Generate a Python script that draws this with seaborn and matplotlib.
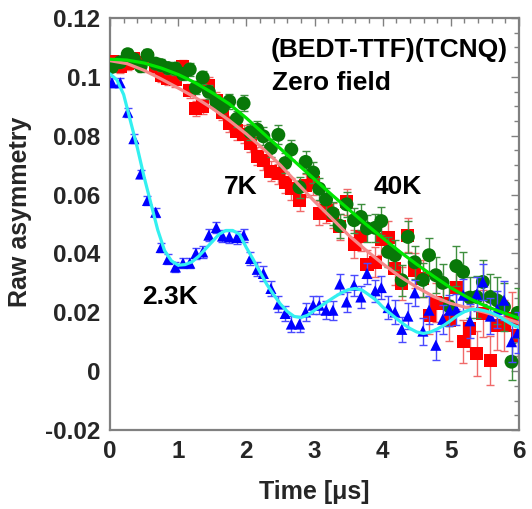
import matplotlib
matplotlib.use("Agg")
import matplotlib.pyplot as plt
import seaborn as sns

# ---- data -------------------------------------------------------------
time_us = [0.03, 0.15, 0.26, 0.35, 0.45, 0.55, 0.67, 0.75, 0.85, 0.96,
           1.07, 1.17, 1.26, 1.36, 1.45, 1.56, 1.65, 1.75, 1.86, 1.96,
           2.06, 2.16, 2.25, 2.36, 2.47, 2.57, 2.66, 2.78, 2.87, 2.98,
           3.07, 3.17, 3.27, 3.37, 3.47, 3.58, 3.68, 3.77, 3.89, 3.98,
           4.08, 4.18, 4.28, 4.37, 4.47, 4.59, 4.68, 4.78, 4.88, 4.98,
           5.08, 5.18, 5.28, 5.38, 5.47, 5.58, 5.68, 5.78, 5.89, 5.98]

asym_40K = [0.1034, 0.1050, 0.1077, 0.1060, 0.1036, 0.1074, 0.1045, 0.1040, 0.1030, 0.1028,
            0.1010, 0.1025, 0.0963, 0.0998, 0.0949, 0.0915, 0.0897, 0.0917, 0.0857, 0.0910,
            0.0812, 0.0821, 0.0798, 0.0758, 0.0803, 0.0707, 0.0753, 0.0625, 0.0711, 0.0675,
            0.0620, 0.0583, 0.0536, 0.0494, 0.0567, 0.0513, 0.0524, 0.0485, 0.0487, 0.0510,
            0.0405, 0.0394, 0.0309, 0.0456, 0.0370, 0.0310, 0.0394, 0.0326, 0.0300, 0.0220,
            0.0357, 0.0337, 0.0250, 0.0252, 0.0303, 0.0252, 0.0240, 0.0218, 0.0032, 0.0198]

asym_7K = [0.1051, 0.1034, 0.1045, 0.1062, 0.1050, 0.1062, 0.1034, 0.1006, 0.0995, 0.0990,
           0.1035, 0.0952, 0.0893, 0.0900, 0.0972, 0.0920, 0.0880, 0.0840, 0.0816, 0.0805,
           0.0774, 0.0731, 0.0717, 0.0680, 0.0670, 0.0640, 0.0620, 0.0581, 0.0632, 0.0640,
           0.0536, 0.0545, 0.0530, 0.0490, 0.0575, 0.0432, 0.0456, 0.0364, 0.0370, 0.0447,
           0.0455, 0.0349, 0.0298, 0.0462, 0.0343, 0.0315, 0.0190, 0.0233, 0.0230, 0.0173,
           0.0283, 0.0100, 0.0145, 0.0060, 0.0195, 0.0037, 0.0156, 0.0155, 0.0179, 0.0122]

asym_2K3 = [0.0980, 0.0980, 0.0880, 0.0790, 0.0670, 0.0580, 0.0540, 0.0420, 0.0380, 0.0354,
            0.0367, 0.0367, 0.0400, 0.0405, 0.0462, 0.0488, 0.0459, 0.0456, 0.0454, 0.0462,
            0.0383, 0.0346, 0.0332, 0.0281, 0.0228, 0.0196, 0.0160, 0.0160, 0.0201, 0.0224,
            0.0224, 0.0207, 0.0207, 0.0296, 0.0235, 0.0292, 0.0252, 0.0332, 0.0273, 0.0284,
            0.0216, 0.0201, 0.0142, 0.0187, 0.0266, 0.0136, 0.0207, 0.0088, 0.0176, 0.0207,
            0.0210, 0.0258, 0.0171, 0.0262, 0.0303, 0.0187, 0.0210, 0.0241, 0.0100, 0.0130]

err_40K = [0.0018, 0.0018, 0.0018, 0.0018, 0.0018, 0.0019, 0.0019, 0.0020, 0.0020, 0.0021,
           0.0021, 0.0022, 0.0022, 0.0023, 0.0024, 0.0024, 0.0025, 0.0026, 0.0026, 0.0027,
           0.0028, 0.0029, 0.0030, 0.0031, 0.0032, 0.0033, 0.0034, 0.0035, 0.0036, 0.0037,
           0.0038, 0.0039, 0.0040, 0.0041, 0.0042, 0.0043, 0.0045, 0.0046, 0.0047, 0.0049,
           0.0050, 0.0052, 0.0053, 0.0055, 0.0056, 0.0058, 0.0060, 0.0061, 0.0063, 0.0065,
           0.0067, 0.0069, 0.0071, 0.0073, 0.0075, 0.0077, 0.0079, 0.0081, 0.0062, 0.0086]

err_7K = [0.0020, 0.0020, 0.0020, 0.0020, 0.0020, 0.0021, 0.0021, 0.0022, 0.0022, 0.0023,
          0.0023, 0.0024, 0.0025, 0.0025, 0.0026, 0.0027, 0.0028, 0.0028, 0.0029, 0.0030,
          0.0031, 0.0032, 0.0033, 0.0034, 0.0035, 0.0036, 0.0037, 0.0038, 0.0039, 0.0040,
          0.0041, 0.0042, 0.0043, 0.0044, 0.0045, 0.0047, 0.0048, 0.0049, 0.0051, 0.0052,
          0.0054, 0.0055, 0.0057, 0.0058, 0.0060, 0.0062, 0.0064, 0.0066, 0.0068, 0.0070,
          0.0072, 0.0074, 0.0076, 0.0078, 0.0080, 0.0083, 0.0085, 0.0088, 0.0090, 0.0093]

err_2K3 = [0.0015, 0.0015, 0.0015, 0.0015, 0.0015, 0.0015, 0.0016, 0.0016, 0.0017, 0.0017,
           0.0018, 0.0018, 0.0019, 0.0019, 0.0020, 0.0020, 0.0021, 0.0021, 0.0022, 0.0022,
           0.0023, 0.0024, 0.0024, 0.0025, 0.0026, 0.0026, 0.0027, 0.0028, 0.0029, 0.0030,
           0.0030, 0.0031, 0.0032, 0.0033, 0.0034, 0.0035, 0.0036, 0.0037, 0.0038, 0.0039,
           0.0040, 0.0041, 0.0042, 0.0044, 0.0045, 0.0046, 0.0048, 0.0049, 0.0050, 0.0052,
           0.0053, 0.0055, 0.0057, 0.0058, 0.0060, 0.0062, 0.0064, 0.0066, 0.0068, 0.0070]

# fitted curves
fit_t_coarse = [0.0, 0.25, 0.5, 0.75, 1.0, 1.25, 1.5, 1.75, 2.0, 2.25, 2.5, 2.75, 3.0,
                3.25, 3.5, 3.75, 4.0, 4.25, 4.5, 4.75, 5.0, 5.25, 5.5, 5.75, 6.0]
fit_40K = [0.1060, 0.1057, 0.1047, 0.1030, 0.1008, 0.0980, 0.0946, 0.0908, 0.0860, 0.0808,
           0.0756, 0.0704, 0.0652, 0.0600, 0.0550, 0.0500, 0.0453, 0.0406, 0.0363, 0.0322,
           0.0283, 0.0250, 0.0222, 0.0200, 0.0180]
fit_7K = [0.1055, 0.1045, 0.1022, 0.0993, 0.0962, 0.0930, 0.0893, 0.0852, 0.0806, 0.0755,
          0.0700, 0.0638, 0.0577, 0.0520, 0.0462, 0.0412, 0.0365, 0.0322, 0.0285, 0.0253,
          0.0230, 0.0215, 0.0200, 0.0182, 0.0164]

fit_t_fine = [0.0, 0.1, 0.2, 0.3, 0.4, 0.5, 0.6, 0.7, 0.8, 0.9,
              1.0, 1.1, 1.2, 1.3, 1.4, 1.5, 1.6, 1.7, 1.8, 1.9,
              2.0, 2.1, 2.2, 2.3, 2.4, 2.5, 2.6, 2.7, 2.8, 2.9,
              3.0, 3.1, 3.2, 3.3, 3.4, 3.5, 3.6, 3.7, 3.8, 3.9,
              4.0, 4.1, 4.2, 4.3, 4.4, 4.5, 4.6, 4.7, 4.8, 4.9,
              5.0, 5.1, 5.2, 5.3, 5.4, 5.5, 5.6, 5.7, 5.8, 5.9, 6.0]
fit_2K3 = [0.1010, 0.0990, 0.0940, 0.0850, 0.0760, 0.0660, 0.0570, 0.0480, 0.0410, 0.0375,
           0.0360, 0.0362, 0.0371, 0.0390, 0.0415, 0.0440, 0.0465, 0.0478, 0.0478, 0.0465,
           0.0420, 0.0380, 0.0337, 0.0295, 0.0260, 0.0228, 0.0203, 0.0186, 0.0182, 0.0190,
           0.0207, 0.0222, 0.0238, 0.0253, 0.0267, 0.0277, 0.0281, 0.0275, 0.0259, 0.0242,
           0.0218, 0.0198, 0.0179, 0.0161, 0.0145, 0.0133, 0.0128, 0.0133, 0.0143, 0.0156,
           0.0172, 0.0189, 0.0202, 0.0210, 0.0210, 0.0205, 0.0198, 0.0187, 0.0172, 0.0158, 0.0148]

x_ticks = [0, 1, 2, 3, 4, 5, 6]
x_tick_labels = ["0", "1", "2", "3", "4", "5", "6"]
y_ticks = [-0.02, 0.0, 0.02, 0.04, 0.06, 0.08, 0.10, 0.12]
y_tick_labels = ["-0.02", "0", "0.02", "0.04", "0.06", "0.08", "0.1", "0.12"]

# ---- style ------------------------------------------------------------
sns.set_theme(style="white")
plt.rcParams["font.family"] = ["Liberation Sans", "DejaVu Sans"]
plt.rcParams["font.weight"] = "bold"
plt.rcParams["axes.labelweight"] = "bold"

fig = plt.figure(figsize=(5.32, 5.09), dpi=100)
ax = fig.add_axes([110 / 532, 1 - 430 / 509, 409 / 532, 412 / 509])

# ---- measured points with error bars -----------------------------------
series = [
    (asym_7K, err_7K, "s", "#ff0000", "#f06a6a", 88, 2),
    (asym_40K, err_40K, "o", "#087808", "#3f8f3f", 100, 4),
    (asym_2K3, err_2K3, "^", "#0000ff", "#4a4aff", 64, 6),
]
for vals, errs, mk, col, ecol, size, z in series:
    ax.errorbar(time_us, vals, yerr=errs, fmt="none", ecolor=ecol,
                elinewidth=1.0, capsize=3.2, capthick=1.0, zorder=z)
    sns.scatterplot(x=time_us, y=vals, marker=mk, s=size, color=col,
                    edgecolor="none", linewidth=0, ax=ax, zorder=z + 1)

# ---- fitted curves -----------------------------------------------------
sns.lineplot(x=fit_t_coarse, y=fit_7K, color="#f58a8a", linewidth=2.3,
             sort=False, estimator=None, ax=ax, zorder=9)
sns.lineplot(x=fit_t_coarse, y=fit_40K, color="#00e600", linewidth=2.3,
             sort=False, estimator=None, ax=ax, zorder=10)
sns.lineplot(x=fit_t_fine, y=fit_2K3, color="#33f0f0", linewidth=2.3,
             sort=False, estimator=None, ax=ax, zorder=11)

# ---- axes --------------------------------------------------------------
ax.set_xlim(0, 6)
ax.set_ylim(-0.02, 0.12)
ax.set_xticks(x_ticks)
ax.set_xticklabels(x_tick_labels)
ax.set_yticks(y_ticks)
ax.set_yticklabels(y_tick_labels)
ax.set_xticks([i * 0.2 for i in range(31)], minor=True)
ax.set_yticks([-0.02 + i * 0.005 for i in range(29)], minor=True)

ax.tick_params(which="both", direction="in", top=True, right=True,
               color="#808080", width=1.0)
ax.tick_params(which="major", length=6, labelsize=17.5)
ax.tick_params(which="minor", length=3.5)
ax.tick_params(axis="x", which="major", pad=7)
ax.tick_params(axis="y", which="major", pad=7)
for lab in ax.get_xticklabels() + ax.get_yticklabels():
    lab.set_fontweight("bold")

for sp in ax.spines.values():
    sp.set_color("#808080")
    sp.set_linewidth(1.6)

ax.set_xlabel("Time [\u03bcs]", fontsize=18, fontweight="bold")
ax.set_ylabel("Raw asymmetry", fontsize=18, fontweight="bold")
ax.xaxis.set_label_coords(0.5, -0.122)
ax.yaxis.set_label_coords(-0.19, 0.53)

# ---- annotations -------------------------------------------------------
txt = dict(fontsize=19, fontweight="bold", color="black", zorder=20)
ax.text(5.84, 0.109, "(BEDT-TTF)(TCNQ)", ha="right", va="center", **txt)
ax.text(2.38, 0.0979, "Zero field", ha="left", va="center", **txt)
ax.text(1.92, 0.0625, "7K", ha="center", va="center", **txt)
ax.text(4.22, 0.0625, "40K", ha="center", va="center", **txt)
ax.text(0.88, 0.0251, "2.3K", ha="center", va="center", **txt)

fig.savefig("out.png", dpi=100, facecolor="white")
